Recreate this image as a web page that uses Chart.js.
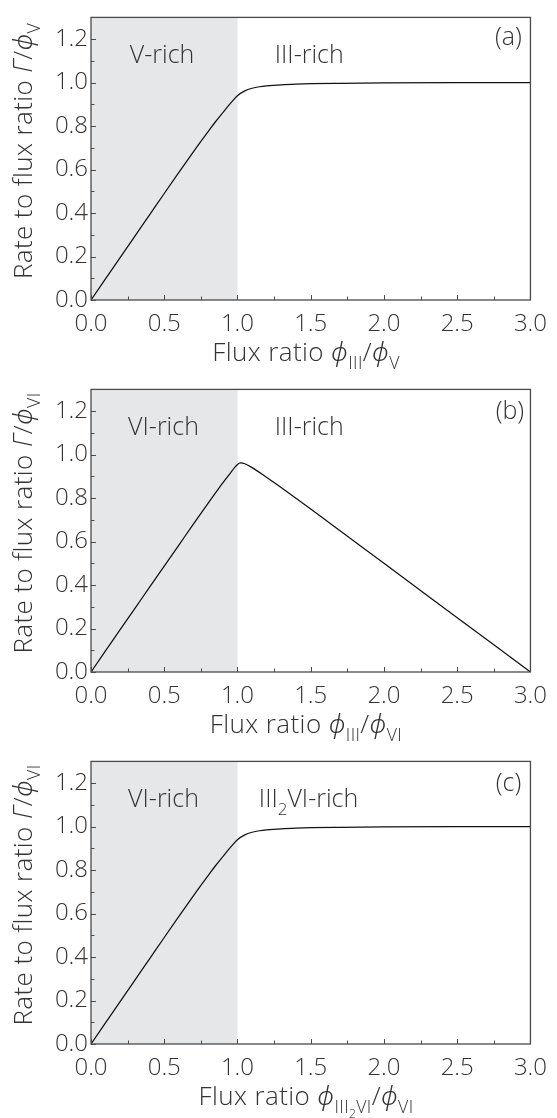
<!DOCTYPE html>
<html><head><meta charset="utf-8">
<script src="https://cdn.jsdelivr.net/npm/chart.js@4"></script>
<style>
html,body{margin:0;padding:0;background:#fff;}
.p{position:absolute;left:0;width:557px;}
canvas{display:block;}
</style></head><body>
<div class="p" style="top:0;height:372px"><canvas id="ca" width="557" height="372"></canvas></div>
<div class="p" style="top:372px;height:372px"><canvas id="cb" width="557" height="372"></canvas></div>
<div class="p" style="top:744px;height:374px"><canvas id="cc" width="557" height="374"></canvas></div>
<script>
// ---- data ----
const xTickValues = [0, 0.5, 1.0, 1.5, 2.0, 2.5, 3.0];
const xTickLabels = ['0.0', '0.5', '1.0', '1.5', '2.0', '2.5', '3.0'];
const xMinorTicks = [0.25, 0.75, 1.25, 1.75, 2.25, 2.75];
const yTickValues = [0, 0.2, 0.4, 0.6, 0.8, 1.0, 1.2];
const yTickLabels = ['0.0', '0.2', '0.4', '0.6', '0.8', '1.0', '1.2'];
const yMinorTicks = [0.1, 0.3, 0.5, 0.7, 0.9, 1.1];
const shadeRange = [0, 1];

const xA = [0, 0.1, 0.2, 0.3, 0.4, 0.5, 0.6, 0.7, 0.75, 0.8, 0.85, 0.9, 0.95, 1.0, 1.05, 1.1, 1.15, 1.2, 1.3, 1.4, 1.5, 1.7, 2.0, 2.5, 3.0];
const yA = [0, 0.098, 0.196, 0.294, 0.392, 0.49, 0.587, 0.683, 0.73, 0.775, 0.82, 0.862, 0.903, 0.94, 0.962, 0.974, 0.981, 0.985, 0.99, 0.993, 0.995, 0.997, 0.999, 1.0, 1.0];

const xB = [0, 0.1, 0.2, 0.3, 0.4, 0.5, 0.6, 0.7, 0.8, 0.85, 0.9, 0.95, 0.98, 1.0, 1.02, 1.05, 1.1, 1.2, 1.3, 1.5, 2.0, 2.5, 3.0];
const yB = [0, 0.098, 0.196, 0.293, 0.39, 0.487, 0.584, 0.681, 0.777, 0.824, 0.87, 0.914, 0.94, 0.955, 0.962, 0.958, 0.94, 0.895, 0.848, 0.75, 0.5, 0.25, 0.0];

const xC = [0, 0.1, 0.2, 0.3, 0.4, 0.5, 0.6, 0.7, 0.75, 0.8, 0.85, 0.9, 0.95, 1.0, 1.05, 1.1, 1.15, 1.2, 1.3, 1.4, 1.5, 1.7, 2.0, 2.5, 3.0];
const yC = [0, 0.098, 0.196, 0.294, 0.392, 0.49, 0.587, 0.683, 0.73, 0.775, 0.82, 0.862, 0.903, 0.94, 0.962, 0.974, 0.981, 0.985, 0.99, 0.993, 0.995, 0.997, 0.999, 1.0, 1.0];

// ---- styling ----
const FAM = '"Open Sans", "DejaVu Sans", sans-serif';
const PHIFAM = '"Noto Sans", "Liberation Sans", sans-serif';
const TXT = '#333333';
const AXC = '#4a4a4a';

function segFont(s, size) {
  const lvl = s.sub || 0;
  const sz = size * Math.pow(0.68, lvl);
  const fam = s.phi ? PHIFAM : FAM;
  return { font: (s.it ? 'italic ' : '') + '300 ' + sz + 'px ' + fam, sz };
}
function richWidth(ctx, segs, size) {
  let w = 0;
  for (const s of segs) { const f = segFont(s, size); ctx.font = f.font; w += ctx.measureText(s.t).width; }
  return w;
}
function drawRich(ctx, segs, x, y, size, align) {
  const w = richWidth(ctx, segs, size);
  let cx = align === 'center' ? x - w / 2 : (align === 'right' ? x - w : x);
  ctx.textBaseline = 'alphabetic';
  ctx.textAlign = 'left';
  for (const s of segs) {
    const f = segFont(s, size);
    ctx.font = f.font;
    let dy = 0;
    if (s.sub >= 1) dy += size * 0.3;
    if (s.sub >= 2) dy += size * 0.68 * 0.3;
    ctx.fillText(s.t, cx, y + dy);
    cx += ctx.measureText(s.t).width;
  }
}

function makeDeco(p) {
  return {
    id: 'deco',
    beforeDatasetsDraw(chart) {
      const { ctx, chartArea: a, scales: { x } } = chart;
      const x0 = x.getPixelForValue(shadeRange[0]), x1 = x.getPixelForValue(shadeRange[1]);
      ctx.save();
      ctx.fillStyle = '#e6e7e9';
      ctx.fillRect(x0, a.top, x1 - x0, a.bottom - a.top);
      ctx.restore();
    },
    afterDatasetsDraw(chart) {
      const { ctx, chartArea: a, scales: { x, y } } = chart;
      ctx.save();
      // ticks (inward)
      ctx.strokeStyle = AXC; ctx.lineWidth = 1;
      ctx.beginPath();
      for (const v of xTickValues) { const px = Math.round(x.getPixelForValue(v)) + 0.5; ctx.moveTo(px, a.bottom); ctx.lineTo(px, a.bottom - 5); }
      for (const v of xMinorTicks) { const px = Math.round(x.getPixelForValue(v)) + 0.5; ctx.moveTo(px, a.bottom); ctx.lineTo(px, a.bottom - 3.5); }
      for (const v of yTickValues) { const py = Math.round(y.getPixelForValue(v)) + 0.5; ctx.moveTo(a.left, py); ctx.lineTo(a.left + 5, py); }
      for (const v of yMinorTicks) { const py = Math.round(y.getPixelForValue(v)) + 0.5; ctx.moveTo(a.left, py); ctx.lineTo(a.left + 3.5, py); }
      ctx.stroke();
      // frame
      ctx.lineWidth = 1.3;
      ctx.strokeRect(a.left, a.top, a.right - a.left, a.bottom - a.top);
      // annotations
      ctx.fillStyle = TXT;
      for (const L of p.labels) {
        const px = x.getPixelForValue(L.x), py = y.getPixelForValue(L.y);
        drawRich(ctx, L.segs, px, py + 9, 25, L.align || 'center');
      }
      // x title
      ctx.letterSpacing = '0.4px';
      drawRich(ctx, p.xTitle, 306, a.bottom + 61, 26, 'center');
      // y title
      ctx.translate(32, 151);
      ctx.rotate(-Math.PI / 2);
      drawRich(ctx, p.yTitle, 0, 0, 26, 'center');
      ctx.restore();
    }
  };
}

const PHI = '\u03D5';
const panels = [
  {
    id: 'ca', xs: xA, ys: yA,
    xTitle: [{ t: 'Flux ratio ' }, { t: PHI, it: 1, phi: 1 }, { t: 'III', sub: 1 }, { t: '/' }, { t: PHI, it: 1, phi: 1 }, { t: 'V', sub: 1 }],
    yTitle: [{ t: 'Rate to flux ratio ' }, { t: '\u0393', it: 1 }, { t: '/' }, { t: PHI, it: 1, phi: 1 }, { t: 'V', sub: 1 }],
    labels: [
      { x: 0.485, y: 1.13, segs: [{ t: 'V-rich' }] },
      { x: 1.49, y: 1.13, segs: [{ t: 'III-rich' }] },
      { x: 2.85, y: 1.215, segs: [{ t: '(a)' }] }
    ]
  },
  {
    id: 'cb', xs: xB, ys: yB,
    xTitle: [{ t: 'Flux ratio ' }, { t: PHI, it: 1, phi: 1 }, { t: 'III', sub: 1 }, { t: '/' }, { t: PHI, it: 1, phi: 1 }, { t: 'VI', sub: 1 }],
    yTitle: [{ t: 'Rate to flux ratio ' }, { t: '\u0393', it: 1 }, { t: '/' }, { t: PHI, it: 1, phi: 1 }, { t: 'VI', sub: 1 }],
    labels: [
      { x: 0.495, y: 1.13, segs: [{ t: 'VI-rich' }] },
      { x: 1.49, y: 1.13, segs: [{ t: 'III-rich' }] },
      { x: 2.86, y: 1.205, segs: [{ t: '(b)' }] }
    ]
  },
  {
    id: 'cc', xs: xC, ys: yC,
    xTitle: [{ t: 'Flux ratio ' }, { t: PHI, it: 1, phi: 1 }, { t: 'III', sub: 1 }, { t: '2', sub: 2 }, { t: 'VI', sub: 1 }, { t: '/' }, { t: PHI, it: 1, phi: 1 }, { t: 'VI', sub: 1 }],
    yTitle: [{ t: 'Rate to flux ratio ' }, { t: '\u0393', it: 1 }, { t: '/' }, { t: PHI, it: 1, phi: 1 }, { t: 'VI', sub: 1 }],
    labels: [
      { x: 0.495, y: 1.13, segs: [{ t: 'VI-rich' }] },
      { x: 1.485, y: 1.13, segs: [{ t: 'III' }, { t: '2', sub: 1 }, { t: 'VI-rich' }] },
      { x: 2.85, y: 1.205, segs: [{ t: '(c)' }] }
    ]
  }
];

for (const p of panels) {
  const el = document.getElementById(p.id);
  new Chart(el, {
    type: 'line',
    data: {
      datasets: [{
        data: p.xs.map((v, i) => ({ x: v, y: p.ys[i] })),
        borderColor: '#111111', borderWidth: 1.25, pointRadius: 0,
        cubicInterpolationMode: 'monotone', fill: false
      }]
    },
    options: {
      responsive: false, animation: false, devicePixelRatio: 1,
      layout: { padding: { top: 15, right: 20, left: 0, bottom: 0 } },
      plugins: { legend: { display: false }, tooltip: { enabled: false } },
      scales: {
        x: {
          type: 'linear', min: 0, max: 3,
          afterBuildTicks: s => { s.ticks = xTickValues.map(v => ({ value: v })); },
          afterFit: s => { s.height = s.chart.height - 300; },
          grid: { display: false, drawTicks: false }, border: { display: false },
          ticks: { padding: 10, color: TXT, font: { family: FAM, size: 24, weight: '300' },
            callback: v => xTickLabels[xTickValues.indexOf(v)], maxRotation: 0, autoSkip: false }
        },
        y: {
          type: 'linear', min: 0, max: 1.3,
          afterBuildTicks: s => { s.ticks = yTickValues.map(v => ({ value: v })); },
          afterFit: s => { s.width = 91; },
          grid: { display: false, drawTicks: false }, border: { display: false },
          ticks: { padding: 3, color: TXT, font: { family: FAM, size: 24, weight: '300' },
            callback: v => yTickLabels[yTickValues.indexOf(v)], autoSkip: false }
        }
      }
    },
    plugins: [makeDeco(p)]
  });
}
</script>
</body></html>
